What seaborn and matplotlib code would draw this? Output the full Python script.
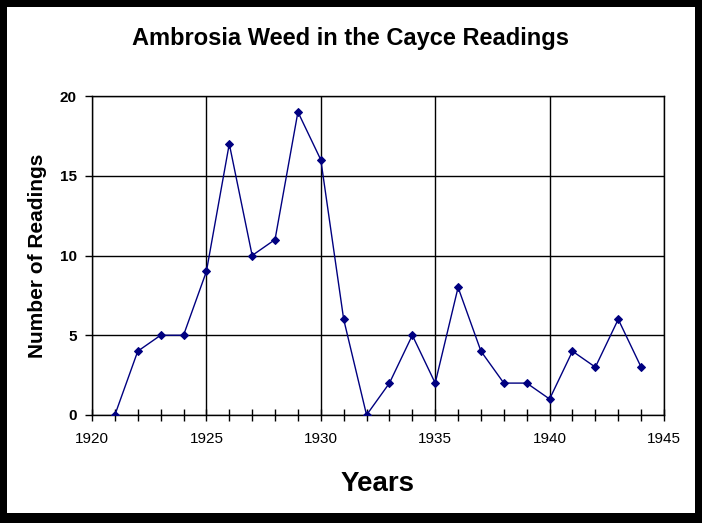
import matplotlib
matplotlib.use("Agg")
import matplotlib.pyplot as plt
from matplotlib.patches import Rectangle
from matplotlib.ticker import MultipleLocator
import pandas as pd
import seaborn as sns

# dati
years = [1921, 1922, 1923, 1924, 1925, 1926, 1927, 1928, 1929, 1930, 1931, 1932,
         1933, 1934, 1935, 1936, 1937, 1938, 1939, 1940, 1941, 1942, 1943, 1944]
readings = [0, 4, 5, 5, 9, 17, 10, 11, 19, 16, 6, 0,
            2, 5, 2, 8, 4, 2, 2, 1, 4, 3, 6, 3]

sns.set_style("white")
plt.rcParams['font.family'] = ['Liberation Sans', 'DejaVu Sans']
plt.rcParams['text.color'] = 'black'
plt.rcParams['axes.labelcolor'] = 'black'
plt.rcParams['xtick.color'] = 'black'
plt.rcParams['ytick.color'] = 'black'

df = pd.DataFrame({"Year": years, "Readings": readings})

fig = plt.figure(figsize=(7.02, 5.23), dpi=100)
fig.patch.set_facecolor("black")
# cornice nera attorno all'area bianca
fig.add_artist(Rectangle((7 / 702, 10 / 523), 688 / 702, 506 / 523,
                         transform=fig.transFigure, facecolor="white",
                         edgecolor="none", zorder=0))

ax = fig.add_axes([92 / 702, 1 - 415 / 523, 572 / 702, 319 / 523])
ax.set_facecolor("white")

sns.lineplot(data=df, x="Year", y="Readings", ax=ax, color="#000080",
             linewidth=1, marker="D", markersize=4, markeredgecolor="#000080",
             zorder=3)

ax.set_xlim(1920, 1945)
ax.set_ylim(0, 20)
ax.xaxis.set_major_locator(MultipleLocator(5))
ax.xaxis.set_minor_locator(MultipleLocator(1))
ax.yaxis.set_major_locator(MultipleLocator(5))

ax.grid(True, which="major", color="black", linewidth=1)
for s in ax.spines.values():
    s.set_color("black")
    s.set_linewidth(1)
    s.set_visible(True)

ax.tick_params(axis="x", which="both", direction="inout", length=8, width=1,
               color="black", bottom=True, labelsize=11, pad=8)
ax.tick_params(axis="y", which="major", direction="out", length=5, width=1,
               color="black", left=True, labelsize=11, pad=6)
for lab in ax.get_yticklabels():
    lab.set_fontweight("bold")

ax.set_xlabel("Years", fontsize=20, fontweight="bold", labelpad=18)
ax.set_ylabel("Number of Readings", fontsize=15, fontweight="bold", labelpad=9)
fig.text(350 / 702, 1 - 38 / 523, "Ambrosia Weed in the Cayce Readings",
         ha="center", va="center", fontsize=17, fontweight="bold")

fig.savefig("out.png", dpi=100, facecolor=fig.get_facecolor())
